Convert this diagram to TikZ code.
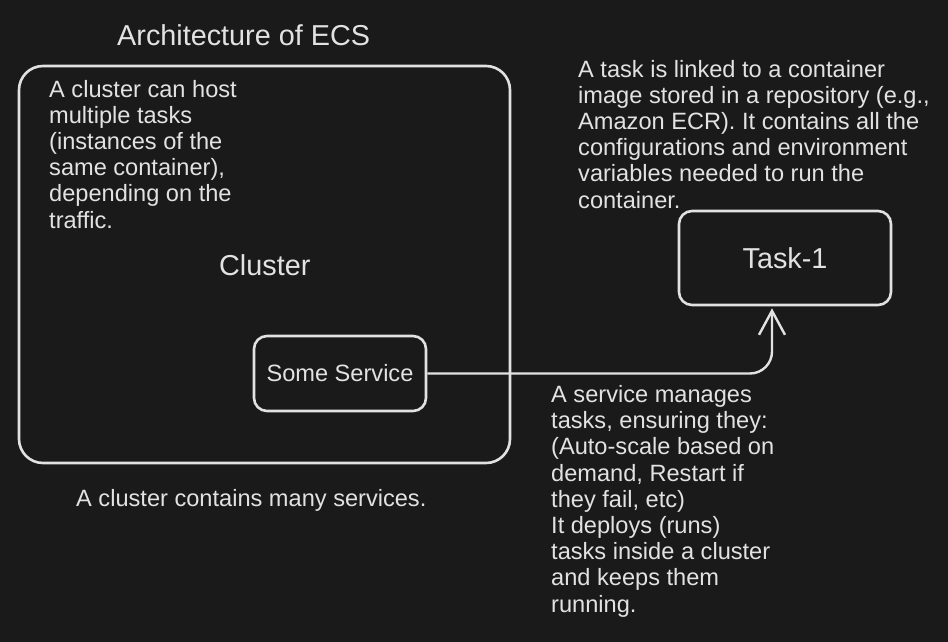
\documentclass[tikz,border=0pt]{standalone}
\usepackage{fontspec}
\setmainfont{Liberation Sans}
\usetikzlibrary{arrows.meta}
\definecolor{canvas}{HTML}{1A1A1A}
\definecolor{ink}{HTML}{E2E2E2}
\newcommand{\bodyfont}{\fontsize{23.6}{26.2}\selectfont}
\newcommand{\headfont}{\fontsize{28.8}{32}\selectfont}
\tikzstyle{box}=[
	rectangle,
	draw=ink,
	line width=2.6pt,
	text=ink,
	rounded corners=13pt
]
\tikzstyle{note}=[
	anchor=base west,
	align=left,
	inner sep=0pt,
	text=ink,
	font=\bodyfont
]
\tikzstyle{flow}=[
	-{Straight Barb[length=24pt,width=26pt]},
	draw=ink,
	line width=2.4pt,
	rounded corners=22pt
]

\begin{document}
\begin{tikzpicture}[x=1pt,y=-1pt]
\fill[canvas] (0,0) rectangle (948,642);
\node [note, font=\headfont] (title) at (117,45.7) {Architecture of ECS};
\node [box, minimum width=491pt, minimum height=397pt, rounded corners=24pt] (cluster) at (264.5,264.5) {};
% multi-line notes sit on their last baseline
\node [note] (clusternote) at (49,228) {A cluster can host\\multiple tasks\\(instances of the\\same container),\\depending on the\\traffic.};
\node [note, font=\headfont] (clusterlabel) at (219,275) {Cluster};
\node [box, minimum width=172pt, minimum height=75pt, font=\bodyfont] (svc) at (340,373.5) {Some Service};
\node [box, minimum width=212pt, minimum height=94pt, font=\headfont] (task) at (785,258) {Task-1};
\node [note] (tasknote) at (578,208) {A task is linked to a container\\image stored in a repository (e.g.,\\Amazon ECR). It contains all the\\configurations and environment\\variables needed to run the\\container.};
\node [note] (svcnote) at (551,612) {A service manages\\tasks, ensuring they:\\(Auto-scale based on\\demand, Restart if\\they fail, etc)\\It deploys (runs)\\tasks inside a cluster\\and keeps them\\running.};
\node [note] (caption) at (76,506) {A cluster contains many services.};
% service feeds the task
\coordinate (taskin) at ([xshift=-13pt,yshift=-2pt]task.south);
\draw [flow] (svc.east) -| (taskin);
\end{tikzpicture}
\end{document}
